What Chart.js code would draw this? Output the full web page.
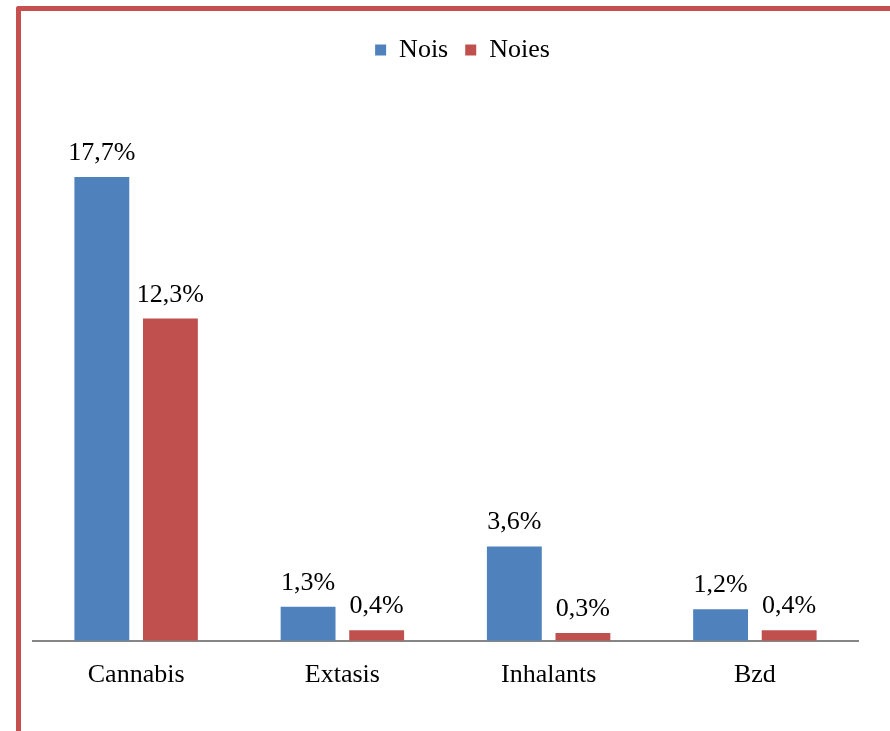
<!DOCTYPE html>
<html lang="ca">
<head>
  <meta charset="UTF-8">
  <title>Consum per sexe</title>
  <style>
    body { margin: 0; background: #fff; }
    #wrap { position: relative; width: 890px; height: 731px; overflow: hidden; }
    #frame {
      position: absolute; left: 16px; top: 6px; width: 900px; height: 760px;
      border-top: 5px solid #c5504f; border-left: 5px solid #c5504f;
      border-top-left-radius: 3px; box-sizing: border-box;
    }
    #chart { position: absolute; left: 0; top: 0; }
  </style>
</head>
<body>
  <div id="wrap">
    <div id="frame"></div>
    <canvas id="chart" width="890" height="731"></canvas>
  </div>

  <script src="https://cdn.jsdelivr.net/npm/chart.js"></script>
  <script>
    const categories = ['Cannabis', 'Extasis', 'Inhalants', 'Bzd'];
    const nois = [17.7, 1.3, 3.6, 1.2];
    const noies = [12.3, 0.4, 0.3, 0.4];

    const serif = "'Liberation Serif', 'Times New Roman', serif";

    // value labels above each bar, e.g. "17,7%"
    const valueLabels = {
      id: 'valueLabels',
      afterLayout(chart) {
        // legend sits a bit right of centre in the original
        chart.legend.left += 17;
        chart.legend.right += 17;
      },
      afterDatasetsDraw(chart) {
        const ctx = chart.ctx;
        ctx.save();
        ctx.font = '26px ' + serif;
        ctx.fillStyle = '#000';
        ctx.textAlign = 'center';
        ctx.textBaseline = 'alphabetic';
        chart.data.datasets.forEach((ds, i) => {
          chart.getDatasetMeta(i).data.forEach((bar, j) => {
            const txt = ds.data[j].toFixed(1).replace('.', ',') + '%';
            ctx.fillText(txt, bar.x, bar.y - 17);
          });
        });
        ctx.restore();
      }
    };

    const ctx = document.getElementById('chart').getContext('2d');
    new Chart(ctx, {
      type: 'bar',
      data: {
        labels: categories,
        datasets: [
          {
            label: 'Nois',
            data: nois,
            backgroundColor: '#4f81bd',
            categoryPercentage: 0.665,
            barPercentage: 0.8
          },
          {
            label: 'Noies',
            data: noies,
            backgroundColor: '#c0504d',
            categoryPercentage: 0.665,
            barPercentage: 0.8
          }
        ]
      },
      options: {
        responsive: false,
        animation: false,
        layout: { padding: { left: 33, right: 32, top: 20, bottom: 21 } },
        scales: {
          x: {
            grid: { display: false, drawTicks: false },
            border: { display: true, color: '#868686', width: 2 },
            ticks: { color: '#000', padding: 19, font: { family: serif, size: 26 } }
          },
          y: {
            display: false,
            min: 0,
            max: 21.67
          }
        },
        plugins: {
          legend: {
            position: 'top',
            labels: {
              color: '#000',
              boxWidth: 11,
              boxHeight: 11,
              padding: 17,
              font: { family: serif, size: 26 }
            }
          },
          tooltip: { enabled: false }
        }
      },
      plugins: [valueLabels]
    });
  </script>
</body>
</html>
